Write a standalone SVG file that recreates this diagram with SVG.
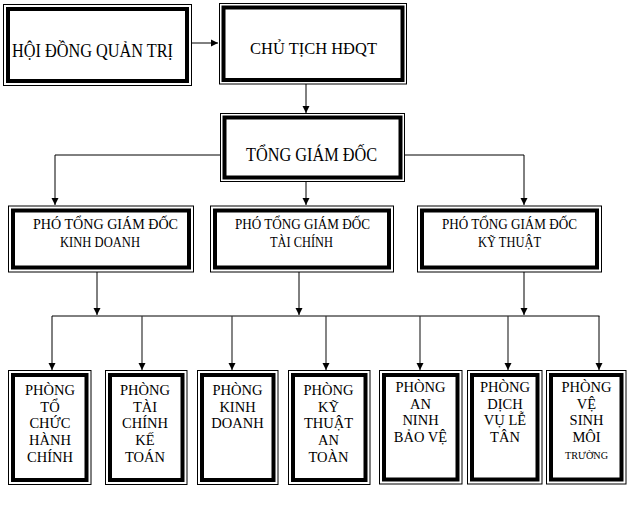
<svg xmlns="http://www.w3.org/2000/svg" width="628" height="518" viewBox="0 0 628 518">
<style>
.o{fill:#fff;stroke:#000;stroke-width:1}
.i{fill:none;stroke:#000;stroke-width:4}
.t{font-family:"Liberation Serif","Times New Roman",serif;fill:#000}
.s{font-size:14.5px;text-anchor:middle}
.c{stroke:#000;stroke-width:1;fill:none}
</style>
<defs>
<marker id="ah" markerWidth="8" markerHeight="8" refX="7" refY="4" orient="auto" markerUnits="userSpaceOnUse">
<path d="M0,0.5 L7,4 L0,7.5 z" fill="#000"/>
</marker>
</defs>
<rect width="628" height="518" fill="#fff"/>

<g id="connectors">
<line class="c" x1="192" y1="43" x2="218" y2="43" marker-end="url(#ah)"/>
<line class="c" x1="306" y1="84" x2="306" y2="113" marker-end="url(#ah)"/>
<line class="c" x1="306" y1="182" x2="306" y2="205" marker-end="url(#ah)"/>
<polyline class="c" points="220,155 55,155 55,205" marker-end="url(#ah)"/>
<polyline class="c" points="405,155 524,155 524,205" marker-end="url(#ah)"/>
<line class="c" x1="97" y1="272" x2="97" y2="315" marker-end="url(#ah)"/>
<line class="c" x1="299" y1="272" x2="299" y2="315" marker-end="url(#ah)"/>
<line x1="524" y1="272" x2="524" y2="315" stroke="#555" stroke-width="1.5" marker-end="url(#ah)"/>
<line class="c" x1="52" y1="316" x2="599.5" y2="316"/>
<line class="c" x1="52" y1="316" x2="52" y2="370" marker-end="url(#ah)"/>
<line x1="142" y1="316" x2="142" y2="370" stroke="#333" stroke-width="1.2" marker-end="url(#ah)"/>
<line x1="232" y1="316" x2="232" y2="370" stroke="#333" stroke-width="1.2" marker-end="url(#ah)"/>
<line x1="326" y1="316" x2="326" y2="370" stroke="#333" stroke-width="1.2" marker-end="url(#ah)"/>
<line x1="420" y1="316" x2="420" y2="370" stroke="#333" stroke-width="1.2" marker-end="url(#ah)"/>
<line x1="508" y1="316" x2="508" y2="370" stroke="#333" stroke-width="1.2" marker-end="url(#ah)"/>
<line class="c" x1="599" y1="316" x2="599" y2="370" marker-end="url(#ah)"/>
</g>

<g id="hdqt">
<rect class="o" x="3.5" y="4.5" width="188" height="81"/>
<rect class="i" x="8" y="9" width="179" height="72"/>
<text class="t" x="12" y="57" font-size="19" textLength="161" lengthAdjust="spacingAndGlyphs">HỘI ĐỒNG QUẢN TRỊ</text>
</g>

<g id="chutich">
<rect class="o" x="219.5" y="3.5" width="187" height="80.5"/>
<rect class="i" x="223.5" y="7.5" width="179" height="72.5"/>
<text class="t" x="250" y="53.5" font-size="16.6" textLength="127" lengthAdjust="spacingAndGlyphs">CHỦ TỊCH HĐQT</text>
</g>

<g id="tgd">
<rect class="o" x="220.5" y="113.5" width="184" height="68"/>
<rect class="i" x="224.5" y="117.5" width="176" height="60"/>
<text class="t" x="246" y="161" font-size="18" textLength="131" lengthAdjust="spacingAndGlyphs">TỔNG GIÁM ĐỐC</text>
</g>

<g id="ptgd-kd">
<rect class="o" x="8.5" y="206" width="185" height="66"/>
<rect class="i" x="13" y="210.5" width="176" height="57"/>
<text class="t" x="33" y="229" font-size="14.5" textLength="145" lengthAdjust="spacingAndGlyphs">PHÓ TỔNG GIÁM ĐỐC</text>
<text class="t" x="60" y="247" font-size="14.5" textLength="80" lengthAdjust="spacingAndGlyphs">KINH DOANH</text>
</g>

<g id="ptgd-tc">
<rect class="o" x="210.5" y="206" width="183" height="66"/>
<rect class="i" x="215" y="210.5" width="174" height="57"/>
<text class="t" x="235" y="229" font-size="14.5" textLength="135" lengthAdjust="spacingAndGlyphs">PHÓ TỔNG GIÁM ĐỐC</text>
<text class="t" x="270" y="247" font-size="14.5" textLength="63" lengthAdjust="spacingAndGlyphs">TÀI CHÍNH</text>
</g>

<g id="ptgd-kt">
<rect class="o" x="417.5" y="206" width="184" height="66"/>
<rect class="i" x="422" y="210.5" width="175" height="57"/>
<text class="t" x="442" y="229" font-size="14.5" textLength="135" lengthAdjust="spacingAndGlyphs">PHÓ TỔNG GIÁM ĐỐC</text>
<text class="t" x="478" y="247" font-size="14.5" textLength="63" lengthAdjust="spacingAndGlyphs">KỸ THUẬT</text>
</g>

<g id="p-tchc">
<rect class="o" x="8.5" y="370.5" width="82.5" height="114"/>
<rect class="i" x="13" y="375" width="73.5" height="105"/>
<text class="t s" x="50" y="395">PHÒNG</text>
<text class="t s" x="50" y="411.7">TỔ</text>
<text class="t s" x="50" y="428.3">CHỨC</text>
<text class="t s" x="50" y="445">HÀNH</text>
<text class="t s" x="50" y="461.7">CHÍNH</text>
</g>

<g id="p-tckt">
<rect class="o" x="105.5" y="370.5" width="81.5" height="114"/>
<rect class="i" x="110" y="375" width="72.5" height="105"/>
<text class="t s" x="145" y="395">PHÒNG</text>
<text class="t s" x="145" y="411.7">TÀI</text>
<text class="t s" x="145" y="428.3">CHÍNH</text>
<text class="t s" x="145" y="445">KẾ</text>
<text class="t s" x="145" y="461.7">TOÁN</text>
</g>

<g id="p-kd">
<rect class="o" x="197.5" y="370.5" width="80.5" height="114"/>
<rect class="i" x="202" y="375" width="71.5" height="105"/>
<text class="t s" x="237.5" y="395">PHÒNG</text>
<text class="t s" x="237.5" y="411.7">KINH</text>
<text class="t s" x="237.5" y="428.3">DOANH</text>
</g>

<g id="p-ktat">
<rect class="o" x="288.5" y="370.5" width="81.5" height="114"/>
<rect class="i" x="293" y="375" width="72.5" height="105"/>
<text class="t s" x="328.5" y="395">PHÒNG</text>
<text class="t s" x="328.5" y="411.7">KỸ</text>
<text class="t s" x="328.5" y="428.3">THUẬT</text>
<text class="t s" x="328.5" y="445">AN</text>
<text class="t s" x="328.5" y="461.7">TOÀN</text>
</g>

<g id="p-anbv">
<rect class="o" x="379.5" y="370.5" width="82.5" height="113.5"/>
<rect class="i" x="384" y="375" width="73.5" height="104.5"/>
<text class="t s" x="420.5" y="392">PHÒNG</text>
<text class="t s" x="420.5" y="408.7">AN</text>
<text class="t s" x="420.5" y="425.3">NINH</text>
<text class="t s" x="420.5" y="442">BẢO VỆ</text>
</g>

<g id="p-dvlt">
<rect class="o" x="467.5" y="370.5" width="74.5" height="113.5"/>
<rect class="i" x="472" y="375" width="65.5" height="104.5"/>
<text class="t s" x="505" y="392" font-size="13.5">PHÒNG</text>
<text class="t s" x="505" y="408.7" font-size="13.5">DỊCH</text>
<text class="t s" x="505" y="425.3" font-size="13.5">VỤ LỄ</text>
<text class="t s" x="505" y="442" font-size="13.5">TÂN</text>
</g>

<g id="p-vsmt">
<rect class="o" x="546.5" y="370.5" width="79.5" height="113.5"/>
<rect class="i" x="551" y="375" width="70.5" height="104.5"/>
<text class="t s" x="586.5" y="392">PHÒNG</text>
<text class="t s" x="586.5" y="408.7">VỆ</text>
<text class="t s" x="586.5" y="425.3">SINH</text>
<text class="t s" x="586.5" y="442">MÔI</text>
<text class="t" x="565" y="459" font-size="11" textLength="43" lengthAdjust="spacingAndGlyphs">TRƯỜNG</text>
</g>
</svg>
